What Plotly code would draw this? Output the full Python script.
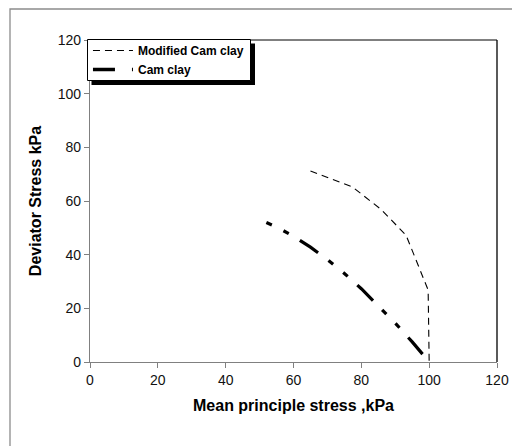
import plotly.graph_objects as go

# Modified Cam clay yield surface
mcc_p = [65, 77.3, 85.8, 93.2, 99.7, 100]
mcc_q = [71.2, 65.3, 56.9, 47.2, 26.8, 0]

# Cam clay yield surface
cc_p = [52, 55, 60, 65, 70, 75, 80, 85, 90, 95, 100]
cc_q = [52.0, 50.3, 46.9, 42.8, 38.2, 33.0, 27.3, 21.1, 14.5, 7.5, 0]

x_ticks = [0, 20, 40, 60, 80, 100, 120]
y_ticks = [0, 20, 40, 60, 80, 100, 120]

W, H = 512, 446
L, R, T, B = 90, 15, 40, 84
pw, ph = W - L - R, H - T - B

fig = go.Figure()
fig.add_trace(go.Scatter(x=mcc_p, y=mcc_q, mode="lines", name="Modified Cam clay",
                         line=dict(color="black", width=1.1, dash="7px,5px")))
fig.add_trace(go.Scatter(x=cc_p, y=cc_q, mode="lines", name="Cam clay", showlegend=False,
                         legendgroup="cc",
                         line=dict(color="black", width=3.2,
                                   dash="6px,13px,6px,13px,22px,13px")))
# legend entry for Cam clay (pattern phase as shown in the original legend)
fig.add_trace(go.Scatter(x=[None], y=[None], mode="lines", name="Cam clay",
                         legendgroup="cc",
                         line=dict(color="black", width=3.6,
                                   dash="22px,17px,5px,13px")))

font = "Liberation Sans, Arial, sans-serif"

def px2x(px):
    return (px - L) / pw

def px2y(py):
    return (H - B - py) / ph

shapes = [
    # outer chart border (grey)
    dict(type="rect", xref="paper", yref="paper", x0=px2x(10), x1=px2x(W + 5),
         y0=px2y(H + 5), y1=px2y(9), line=dict(color="#8c8c8c", width=1.3), layer="below"),
    # top and right plot frame lines (black)
    dict(type="line", xref="paper", yref="paper", x0=0, x1=1, y0=1, y1=1,
         line=dict(color="black", width=1)),
    dict(type="line", xref="paper", yref="paper", x0=1, x1=1, y0=0, y1=1,
         line=dict(color="black", width=1.3)),
    # legend shadow
    dict(type="rect", xref="paper", yref="paper", x0=px2x(91.5), x1=px2x(255),
         y0=px2y(85), y1=px2y(43.5), fillcolor="black", line=dict(width=0)),
    # legend box
    dict(type="rect", xref="paper", yref="paper", x0=px2x(87.5), x1=px2x(250.5),
         y0=px2y(80.5), y1=px2y(39.5), fillcolor="white",
         line=dict(color="black", width=1)),
]

fig.update_layout(
    width=W, height=H,
    margin=dict(l=L, r=R, t=T, b=B, autoexpand=False),
    paper_bgcolor="white", plot_bgcolor="white",
    font=dict(family=font, size=14, color="#111"),
    shapes=shapes,
    showlegend=True,
    legend=dict(x=-0.005, y=1.0 + 4 / ph, xanchor="left", yanchor="top",
                bgcolor="rgba(0,0,0,0)", borderwidth=0,
                font=dict(family=font, size=12, color="black", weight="bold"),
                itemwidth=40, tracegroupgap=0),
    xaxis=dict(range=[0, 120], tickvals=x_ticks, showgrid=False, zeroline=False,
               automargin=False,
               showline=True, linecolor="#808080", linewidth=1.3,
               ticks="outside", ticklen=5, tickcolor="#808080",
               tickfont=dict(size=14, family=font, color="#111"),
               title=dict(text="Mean principle stress ,kPa", standoff=12,
                          font=dict(size=16, family=font, color="black", weight="bold"))),
    yaxis=dict(range=[0, 120], tickvals=y_ticks, showgrid=False, zeroline=False,
               automargin=False,
               showline=True, linecolor="#808080", linewidth=1.3,
               ticks="outside", ticklen=5, tickcolor="#808080",
               tickfont=dict(size=14, family=font, color="#111"),
               title=dict(text="Deviator Stress kPa", standoff=12,
                          font=dict(size=16, family=font, color="black", weight="bold"))),
)

fig.write_html("out.html")
